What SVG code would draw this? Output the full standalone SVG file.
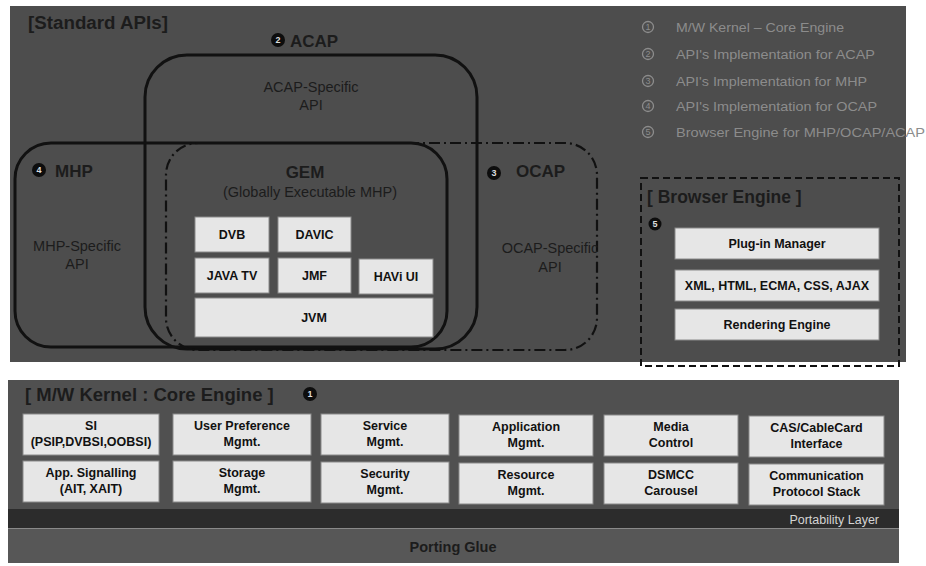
<svg xmlns="http://www.w3.org/2000/svg" width="926" height="566" viewBox="0 0 926 566">
<defs>
<style>
.panel{fill:#4d4d4d}
.lbl{font-family:"Liberation Sans",Arial,sans-serif;fill:#1c1c1c}
.b{font-weight:bold}
.box{fill:#e6e6e6;stroke:#8a8a8a;stroke-width:1}
.bt{font-family:"Liberation Sans",Arial,sans-serif;font-weight:bold;font-size:12.5px;fill:#111;text-anchor:middle}
.set{fill:none;stroke:#111;stroke-width:3}
.leg{font-family:"Liberation Sans",Arial,sans-serif;font-size:13.5px;fill:#8c8c8c}
.legc{fill:none;stroke:#8c8c8c;stroke-width:1.3}
.legn{font-family:"Liberation Sans",Arial,sans-serif;font-size:9px;fill:#8c8c8c;text-anchor:middle}
.num{fill:#0d0d0d}
.numt{font-family:"Liberation Sans",Arial,sans-serif;font-weight:bold;font-size:9px;fill:#ddd;text-anchor:middle}
</style>
</defs>
<rect width="926" height="566" fill="#ffffff"/>
<g id="standard-apis">
<rect class="panel" x="10" y="6" width="896" height="356"/>
<text class="lbl b" x="28" y="29" font-size="18" textLength="140" lengthAdjust="spacingAndGlyphs">[Standard APIs]</text>
</g>
<g id="legend">
<circle class="legc" cx="648" cy="27" r="5.5"/><text class="legn" x="648" y="30">1</text>
<text class="leg" x="676" y="32" textLength="168" lengthAdjust="spacingAndGlyphs">M/W Kernel – Core Engine</text>
<circle class="legc" cx="648" cy="54" r="5.5"/><text class="legn" x="648" y="57">2</text>
<text class="leg" x="676" y="59" textLength="199" lengthAdjust="spacingAndGlyphs">API's Implementation for ACAP</text>
<circle class="legc" cx="648" cy="81" r="5.5"/><text class="legn" x="648" y="84">3</text>
<text class="leg" x="676" y="86" textLength="191" lengthAdjust="spacingAndGlyphs">API's Implementation for MHP</text>
<circle class="legc" cx="648" cy="106" r="5.5"/><text class="legn" x="648" y="109">4</text>
<text class="leg" x="676" y="111" textLength="201" lengthAdjust="spacingAndGlyphs">API's Implementation for OCAP</text>
<circle class="legc" cx="648" cy="132" r="5.5"/><text class="legn" x="648" y="135">5</text>
<text class="leg" x="676" y="137" textLength="249" lengthAdjust="spacingAndGlyphs">Browser Engine for MHP/OCAP/ACAP</text>
</g>
<g id="acap">
<rect class="set" x="145" y="55" width="332" height="294" rx="42"/>
<circle class="num" cx="278" cy="40" r="7"/><text class="numt" x="278" y="43">2</text>
<text class="lbl b" x="290" y="47" font-size="17">ACAP</text>
<text class="lbl" x="311" y="92" font-size="14.5" text-anchor="middle">ACAP-Specific</text>
<text class="lbl" x="311" y="110" font-size="14.5" text-anchor="middle">API</text>
</g>
<g id="mhp">
<rect class="set" x="15" y="143" width="432" height="204" rx="36"/>
<circle class="num" cx="39" cy="170" r="7"/><text class="numt" x="39" y="173">4</text>
<text class="lbl b" x="55" y="177" font-size="17">MHP</text>
<text class="lbl" x="77" y="251" font-size="14.5" text-anchor="middle">MHP-Specific</text>
<text class="lbl" x="77" y="269" font-size="14.5" text-anchor="middle">API</text>
</g>
<g id="ocap">
<rect x="166" y="143" width="431" height="207" rx="32" fill="none" stroke="#111" stroke-width="2.2" stroke-dasharray="11 4 2 4"/>
<circle class="num" cx="494" cy="173" r="7"/><text class="numt" x="494" y="176">3</text>
<text class="lbl b" x="516" y="177" font-size="17">OCAP</text>
<text class="lbl" x="550" y="253" font-size="14.5" text-anchor="middle">OCAP-Specific</text>
<text class="lbl" x="550" y="272" font-size="14.5" text-anchor="middle">API</text>
</g>
<g id="gem">
<text class="lbl b" x="305" y="178" font-size="17" text-anchor="middle">GEM</text>
<text class="lbl" x="310" y="197" font-size="14.5" text-anchor="middle">(Globally Executable MHP)</text>
</g>
<g id="gem-dvb"><rect class="box" x="195" y="217" width="74" height="35"/><text class="bt" x="232" y="239">DVB</text></g>
<g id="gem-davic"><rect class="box" x="278" y="217" width="73" height="35"/><text class="bt" x="314.5" y="239">DAVIC</text></g>
<g id="gem-javatv"><rect class="box" x="195" y="258" width="74" height="35"/><text class="bt" x="232" y="280">JAVA TV</text></g>
<g id="gem-jmf"><rect class="box" x="278" y="258" width="73" height="35"/><text class="bt" x="314.5" y="280">JMF</text></g>
<g id="gem-havi"><rect class="box" x="359" y="259" width="74" height="35"/><text class="bt" x="396" y="281">HAVi UI</text></g>
<g id="gem-jvm"><rect class="box" x="195" y="298" width="238" height="39"/><text class="bt" x="314" y="322">JVM</text></g>
<g id="browser-engine">
<rect x="641" y="178" width="258" height="188" fill="none" stroke="#111" stroke-width="2" stroke-dasharray="7 4"/>
<text class="lbl b" x="647" y="203" font-size="17.5">[ Browser Engine ]</text>
<circle class="num" cx="655" cy="224" r="6.5"/><text class="numt" x="655" y="227">5</text>
</g>
<g id="be-plugin"><rect class="box" x="675" y="228" width="204" height="31"/><text class="bt" x="777" y="248">Plug-in Manager</text></g>
<g id="be-xml"><rect class="box" x="675" y="270" width="204" height="31"/><text class="bt" x="777" y="290">XML, HTML, ECMA, CSS, AJAX</text></g>
<g id="be-render"><rect class="box" x="675" y="309" width="204" height="31"/><text class="bt" x="777" y="329">Rendering Engine</text></g>
<g id="kernel">
<rect x="8" y="380" width="891" height="183" fill="#505050"/>
<text class="lbl b" x="25" y="401" font-size="18.5">[ M/W Kernel : Core Engine ]</text>
<circle class="num" cx="310" cy="394" r="7"/><text class="numt" x="310" y="397">1</text>
</g>
<g id="k-si"><rect class="box" x="23" y="414" width="136" height="41"/><text class="bt" x="91" y="430">SI</text><text class="bt" x="91" y="446">(PSIP,DVBSI,OOBSI)</text></g>
<g id="k-userpref"><rect class="box" x="173" y="414" width="138" height="41"/><text class="bt" x="242" y="430">User Preference</text><text class="bt" x="242" y="446">Mgmt.</text></g>
<g id="k-service"><rect class="box" x="321" y="414" width="128" height="41"/><text class="bt" x="385" y="430">Service</text><text class="bt" x="385" y="446">Mgmt.</text></g>
<g id="k-app"><rect class="box" x="459" y="415" width="134" height="41"/><text class="bt" x="526" y="431">Application</text><text class="bt" x="526" y="447">Mgmt.</text></g>
<g id="k-media"><rect class="box" x="604" y="415" width="134" height="41"/><text class="bt" x="671" y="431">Media</text><text class="bt" x="671" y="447">Control</text></g>
<g id="k-cas"><rect class="box" x="749" y="416" width="135" height="41"/><text class="bt" x="816.5" y="432">CAS/CableCard</text><text class="bt" x="816.5" y="448">Interface</text></g>
<g id="k-appsig"><rect class="box" x="23" y="461" width="136" height="41"/><text class="bt" x="91" y="477">App. Signalling</text><text class="bt" x="91" y="493">(AIT, XAIT)</text></g>
<g id="k-storage"><rect class="box" x="173" y="461" width="138" height="41"/><text class="bt" x="242" y="477">Storage</text><text class="bt" x="242" y="493">Mgmt.</text></g>
<g id="k-security"><rect class="box" x="321" y="462" width="128" height="41"/><text class="bt" x="385" y="478">Security</text><text class="bt" x="385" y="494">Mgmt.</text></g>
<g id="k-resource"><rect class="box" x="459" y="463" width="134" height="41"/><text class="bt" x="526" y="479">Resource</text><text class="bt" x="526" y="495">Mgmt.</text></g>
<g id="k-dsmcc"><rect class="box" x="604" y="463" width="134" height="41"/><text class="bt" x="671" y="479">DSMCC</text><text class="bt" x="671" y="495">Carousel</text></g>
<g id="k-comm"><rect class="box" x="749" y="464" width="135" height="41"/><text class="bt" x="816.5" y="480">Communication</text><text class="bt" x="816.5" y="496">Protocol Stack</text></g>
<g id="portability-layer">
<rect x="8" y="509" width="891" height="19" fill="#2c2c2c"/>
<text x="879" y="524" font-family="'Liberation Sans',Arial,sans-serif" font-size="12.5" fill="#d4d4d4" text-anchor="end">Portability Layer</text>
</g>
<g id="porting-glue">
<rect x="8" y="528" width="891" height="35" fill="#575757"/>
<line x1="8" y1="528.5" x2="899" y2="528.5" stroke="#8a8a8a" stroke-width="1"/>
<text class="lbl b" x="453" y="552" font-size="14.5" text-anchor="middle">Porting Glue</text>
</g>
<g id="connectors"/>
</svg>
